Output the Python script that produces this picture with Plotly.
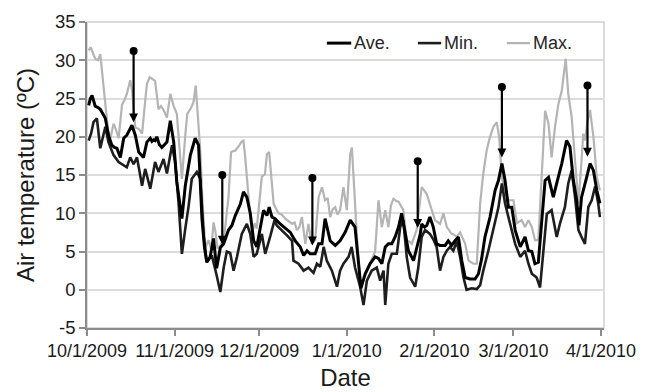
import pandas as pd
import plotly.graph_objects as go

START = pd.Timestamp("2009-10-01")

# Days since 10/1/2009 and temperatures
max_day = [0.6, 1.3, 2.9, 3.9, 4.7, 6.5, 7.4, 8.3, 9.4, 10.2, 11.2, 12.4, 13.3, 14.1, 15.3, 16.0, 17.1, 18.4,
           19.5, 20.3, 21.2, 22.2, 23.0, 24.1, 25.3, 26.2, 27.1, 28.3, 29.5, 30.7, 31.8, 33.0, 33.6, 34.8,
           35.5, 36.6, 37.7, 38.5, 39.3, 40.1, 40.9, 41.9, 43.0, 44.0, 44.8, 45.4, 46.2, 47.3, 48.6, 49.5,
           50.1, 51.0, 52.5, 53.8, 54.8, 55.4, 56.0, 57.2, 58.4, 59.4, 60.1, 61.3, 61.9, 63.0, 63.7, 64.5,
           64.9, 66.1, 67.8, 69.0, 70.2, 71.4, 72.6, 73.5, 74.3, 75.2, 76.1, 77.3, 78.4, 79.6, 80.8, 82.0,
           83.2, 84.3, 85.2, 86.1, 87.0, 87.9, 88.7, 89.6, 90.8, 92.0, 93.2, 93.8, 94.5, 95.5, 96.7, 97.6,
           98.5, 100.2, 102.0, 103.2, 104.4, 105.6, 106.7, 107.6, 108.5, 109.5, 110.3, 112.0, 113.2, 114.2,
           115.0, 116.7, 117.5, 118.5, 119.4, 120.3, 121.4, 123.2, 125.0, 126.2, 127.4, 129.1, 130.0, 130.9,
           132.1, 133.9, 135.1, 136.8, 138.0, 139.2, 140.3, 141.5, 142.7, 143.9, 145.1, 145.9, 146.9, 148.0,
           149.2, 151.0, 152.2, 153.9, 155.1, 156.3, 157.5, 158.6, 159.8, 161.0, 162.2, 163.4, 164.5, 165.7,
           166.9, 168.1, 169.5, 170.4, 171.6, 172.8, 174.0, 175.1, 175.7, 176.3, 177.2, 178.1, 179.3, 180.5,
           181.6]
max_temp = [31.3, 31.7, 30.2, 30.0, 30.8, 24.5, 21.0, 19.8, 21.7, 21.0, 19.8, 24.2, 24.8, 25.6, 27.4, 26.0,
            21.2, 21.0, 20.4, 23.5, 26.9, 27.8, 27.6, 27.3, 23.6, 24.0, 23.5, 22.5, 25.6, 24.0, 23.0, 17.0,
            14.5, 20.2, 23.0, 23.6, 24.5, 26.7, 23.0, 18.2, 11.5, 5.4, 6.5, 5.3, 8.8, 7.8, 5.4, 5.8, 7.0,
            9.9, 12.1, 18.0, 18.2, 18.8, 19.4, 19.5, 17.4, 12.1, 7.4, 8.7, 8.0, 12.5, 14.8, 15.1, 17.7, 18.0,
            16.1, 11.2, 10.0, 9.8, 9.3, 9.0, 8.6, 8.8, 7.8, 8.2, 9.5, 6.0, 8.6, 6.0, 6.5, 12.1, 13.4, 11.7,
            12.0, 9.5, 10.5, 10.8, 9.8, 10.4, 13.4, 10.4, 17.8, 18.6, 13.9, 7.3, 1.2, 1.0, 1.8, 3.4, 5.0,
            11.7, 8.2, 10.4, 8.2, 11.0, 11.9, 11.6, 11.5, 10.4, 6.4, 6.3, 6.0, 7.8, 10.0, 13.4, 13.0, 12.5,
            11.2, 9.1, 8.6, 10.0, 8.2, 7.3, 7.2, 6.9, 7.5, 6.0, 3.8, 3.4, 3.4, 11.3, 15.2, 18.2, 20.0, 21.3,
            21.9, 20.0, 14.7, 12.6, 11.7, 11.7, 8.7, 9.1, 8.2, 9.1, 8.2, 6.5, 6.5, 14.7, 23.4, 21.7, 17.3,
            21.3, 24.3, 26.0, 30.2, 25.6, 22.6, 16.9, 11.3, 16.9, 20.4, 19.5, 22.0, 23.5, 20.0, 14.7, 13.0]

ave_day = [0.6, 1.2, 1.8, 2.3, 2.9, 4.0, 4.7, 5.6, 6.5, 7.6, 8.8, 9.7, 10.6, 11.8, 13.0, 14.1, 15.0, 15.9,
           17.1, 18.3, 20.0, 21.2, 22.4, 23.0, 23.6, 24.1, 24.7, 25.6, 26.5, 28.3, 29.5, 30.7, 31.8, 33.6,
           34.8, 36.6, 38.3, 39.5, 40.7, 41.6, 42.4, 43.6, 44.8, 45.9, 47.2, 48.4, 50.1, 51.3, 52.5, 54.3,
           55.4, 56.6, 57.8, 59.0, 60.1, 61.3, 62.5, 63.7, 64.5, 65.5, 66.6, 68.4, 70.2, 72.0, 73.7, 74.6,
           75.5, 76.7, 77.9, 79.0, 80.8, 82.0, 83.2, 84.3, 86.1, 87.9, 89.6, 91.4, 93.2, 94.9, 96.1, 97.0,
           98.5, 100.2, 102.0, 103.2, 104.4, 105.6, 106.7, 107.9, 109.1, 110.3, 111.4, 112.6, 113.8, 115.6,
           116.8, 118.0, 118.5, 119.5, 120.3, 121.4, 122.6, 123.8, 125.0, 126.8, 127.9, 129.1, 130.3, 131.5,
           132.7, 133.9, 135.6, 137.4, 138.6, 139.7, 140.9, 142.7, 144.5, 145.7, 146.9, 148.0, 149.2, 150.4,
           151.6, 153.4, 155.1, 156.3, 157.5, 158.6, 159.8, 161.0, 162.2, 163.4, 165.1, 166.3, 168.1, 169.8,
           171.0, 172.2, 173.4, 174.2, 175.1, 176.9, 178.1, 179.3, 180.5, 181.6]
ave_temp = [24.1, 25.0, 25.4, 24.8, 24.0, 23.8, 23.6, 23.0, 22.4, 20.2, 18.9, 18.6, 18.5, 17.3, 19.8, 20.2,
            20.8, 21.5, 20.2, 18.0, 17.3, 19.3, 19.8, 19.4, 19.6, 19.5, 20.0, 19.0, 18.6, 19.3, 22.1, 19.3,
            14.1, 9.3, 13.6, 17.6, 19.8, 18.9, 9.3, 5.5, 3.6, 4.3, 6.7, 2.8, 5.5, 6.0, 7.8, 8.4, 9.7, 11.2,
            12.8, 12.1, 10.0, 6.4, 5.6, 8.2, 10.4, 9.7, 10.8, 9.5, 9.3, 8.6, 8.0, 7.5, 6.4, 6.0, 5.6, 4.5,
            5.1, 4.7, 4.7, 6.0, 6.0, 9.3, 6.4, 5.8, 6.4, 7.5, 9.1, 8.2, 3.8, 0.2, 2.1, 3.4, 4.3, 4.1, 3.4,
            5.6, 6.0, 6.0, 6.9, 8.2, 10.0, 7.3, 5.1, 3.8, 5.6, 7.3, 8.6, 8.2, 8.4, 9.5, 8.2, 6.0, 5.8, 5.8,
            6.4, 5.8, 6.4, 6.9, 3.8, 1.6, 1.4, 1.4, 2.1, 4.0, 6.9, 9.5, 13.0, 14.3, 16.5, 14.3, 10.8, 10.8,
            7.8, 5.6, 6.9, 5.1, 5.0, 3.4, 3.6, 9.5, 14.3, 14.7, 12.1, 13.9, 16.5, 19.5, 18.7, 14.3, 11.7,
            8.4, 12.1, 14.7, 16.5, 15.6, 13.0, 11.3]

min_day = [0.6, 1.5, 2.3, 3.5, 4.7, 5.9, 6.5, 7.6, 9.4, 11.2, 13.0, 14.1, 15.3, 16.5, 17.7, 19.5, 20.6, 22.4,
           24.1, 25.3, 27.1, 28.3, 30.1, 31.2, 32.4, 33.6, 34.8, 36.0, 37.1, 38.9, 40.1, 41.3, 42.4, 44.2,
           45.9, 47.2, 48.4, 49.5, 50.7, 51.9, 53.1, 54.8, 56.6, 57.8, 59.0, 60.1, 61.9, 63.1, 64.9, 66.4,
           67.2, 69.0, 70.8, 72.6, 73.1, 74.9, 76.7, 78.4, 80.2, 81.4, 82.6, 83.8, 84.9, 86.7, 88.5, 89.6,
           90.8, 92.6, 93.7, 94.9, 96.7, 97.9, 99.1, 100.8, 102.6, 103.8, 105.0, 105.6, 106.7, 107.9, 109.7,
           110.9, 112.0, 113.2, 114.4, 116.2, 117.3, 118.5, 119.7, 121.4, 122.6, 123.8, 125.0, 126.2, 127.4,
           128.5, 129.7, 130.9, 132.1, 133.3, 134.4, 136.2, 138.0, 139.2, 140.3, 142.1, 143.9, 145.7, 146.9,
           148.0, 149.2, 150.4, 151.6, 153.4, 155.1, 156.3, 157.5, 159.2, 160.4, 161.6, 162.8, 164.5, 166.3,
           167.5, 169.2, 170.4, 171.6, 172.8, 174.0, 175.1, 176.3, 177.5, 178.7, 179.9, 181.0, 181.6]
min_temp = [19.5, 20.5, 21.9, 22.4, 18.5, 20.2, 21.3, 19.3, 17.6, 16.7, 16.2, 16.0, 17.3, 16.4, 17.3, 13.6,
            15.8, 13.2, 16.7, 15.4, 17.1, 15.2, 18.9, 16.7, 11.5, 4.7, 8.0, 11.0, 14.5, 15.4, 14.5, 7.1, 3.6,
            4.5, 1.9, -0.3, 2.9, 5.0, 4.8, 2.5, 4.3, 7.3, 8.6, 7.3, 4.3, 4.7, 7.3, 4.7, 7.0, 9.1, 8.4, 7.8,
            7.1, 6.4, 3.8, 3.4, 2.5, 2.9, 2.2, 3.4, 3.0, 5.6, 3.8, 2.5, 0.4, 2.5, 3.4, 4.3, 5.6, 2.9, 0.4,
            -2.0, 1.2, 2.5, 2.9, 1.2, 2.5, -2.0, 3.4, 4.7, 4.7, 8.2, 9.1, 4.3, 1.6, 0.4, 2.9, 6.9, 7.8, 7.3,
            6.6, 5.6, 2.5, 4.3, 5.1, 5.6, 5.1, 6.3, 4.3, 1.6, 0.0, 0.2, 0.1, 0.6, 2.5, 5.1, 7.8, 10.8, 13.9,
            11.3, 9.5, 7.8, 6.0, 4.3, 5.1, 3.4, 2.1, 1.6, 0.3, 5.1, 9.9, 10.4, 6.9, 8.7, 10.8, 13.9, 15.6,
            12.1, 7.8, 6.9, 6.0, 10.8, 11.7, 13.5, 11.3, 9.5]

# Arrows (day, top of arrow with dot, tip pointing at Ave.)
arrow_day = [16.5, 47.9, 79.8, 117.1, 146.9, 177.2]
arrow_top = [31.2, 15.0, 14.6, 16.8, 26.5, 26.7]
arrow_tip = [21.9, 5.9, 5.8, 8.1, 17.3, 17.4]

tick_dates = ["2009-10-01", "2009-11-01", "2009-12-01", "2010-01-01",
              "2010-02-01", "2010-03-01", "2010-04-01"]
tick_labels = ["10/1/2009", "11/1/2009", "12/1/2009", "1/1/2010",
               "2/1/2010", "3/1/2010", "4/1/2010"]
y_ticks = [-5, 0, 5, 10, 15, 20, 25, 30, 35]
y_tick_labels = ["-5", "0", "5", "10", "15", "20", "25", "30", "35"]

series_names = ["Ave.", "Min.", "Max."]


def to_dates(days):
    return [START + pd.Timedelta(days=d) for d in days]


FONT = "Liberation Sans, Arial, sans-serif"
fig = go.Figure()

fig.add_trace(go.Scatter(x=to_dates(max_day), y=max_temp, mode="lines", name="Max.",
                         line=dict(color="#b4b4b4", width=2.2), showlegend=False))
fig.add_trace(go.Scatter(x=to_dates(min_day), y=min_temp, mode="lines", name="Min.",
                         line=dict(color="#1e1e1e", width=2.6), showlegend=False))
fig.add_trace(go.Scatter(x=to_dates(ave_day), y=ave_temp, mode="lines", name="Ave.",
                         line=dict(color="#000000", width=3), showlegend=False))

arrow_dates = to_dates(arrow_day)
fig.add_trace(go.Scatter(x=arrow_dates, y=arrow_top, mode="markers", showlegend=False,
                         marker=dict(color="#000000", size=8)))
for d, top, tip in zip(arrow_dates, arrow_top, arrow_tip):
    fig.add_annotation(x=d, y=tip, ax=d, ay=top, xref="x", yref="y", axref="x", ayref="y",
                       text="", showarrow=True, arrowhead=2, arrowsize=0.8, arrowwidth=2.2,
                       arrowcolor="#000000", standoff=0, startstandoff=0)

# Manual legend (short line + label)
leg_y = 0.931
leg_items = [("Ave.", "#000000", 3, 0.464, 0.511),
             ("Min.", "#1e1e1e", 2.6, 0.640, 0.685),
             ("Max.", "#b4b4b4", 2.2, 0.812, 0.857)]
for name, col, w, x0, x1 in leg_items:
    fig.add_shape(type="line", xref="paper", yref="paper", x0=x0, x1=x1, y0=leg_y, y1=leg_y,
                  line=dict(color=col, width=w))
    fig.add_annotation(xref="paper", yref="paper", x=x1 + 0.001, y=leg_y, text=name,
                       showarrow=False, xanchor="left", yanchor="middle",
                       font=dict(family=FONT, size=18, color="#262626"))

# plot-area border (top/right)
fig.add_shape(type="rect", xref="paper", yref="paper", x0=0, x1=1, y0=0, y1=1,
              line=dict(color="#cfcfcf", width=1.5), layer="below")

x_end = START + pd.Timedelta(days=183.05)
fig.update_layout(
    width=650, height=392,
    margin=dict(l=87, r=46, t=22, b=64),
    paper_bgcolor="white", plot_bgcolor="white",
    font=dict(family=FONT, color="#1a1a1a"),
    xaxis=dict(type="date", range=[START, x_end], tickvals=tick_dates, ticktext=tick_labels,
               ticks="outside", ticklen=6, tickwidth=1.5, tickcolor="#8c8c8c",
               showline=True, linecolor="#8c8c8c", linewidth=1.5, showgrid=False,
               tickfont=dict(size=18, color="#1a1a1a"),
               title=dict(text="Date", font=dict(size=24, color="#1a1a1a"), standoff=9),
               automargin=False),
    yaxis=dict(range=[-5, 35], tickvals=y_ticks, ticktext=y_tick_labels, ticks="outside",
               ticklen=6, tickwidth=1.5,
               tickcolor="#8c8c8c", showline=True, linecolor="#8c8c8c", linewidth=1.5,
               showgrid=True, gridcolor="#dcdcdc", gridwidth=1.5, zeroline=False,
               tickfont=dict(size=18.5, color="#1a1a1a"),
               title=dict(text="Air temperature (ºC)", font=dict(size=24, color="#1a1a1a"), standoff=14),
               automargin=False),
)

fig.write_html("out.html")
